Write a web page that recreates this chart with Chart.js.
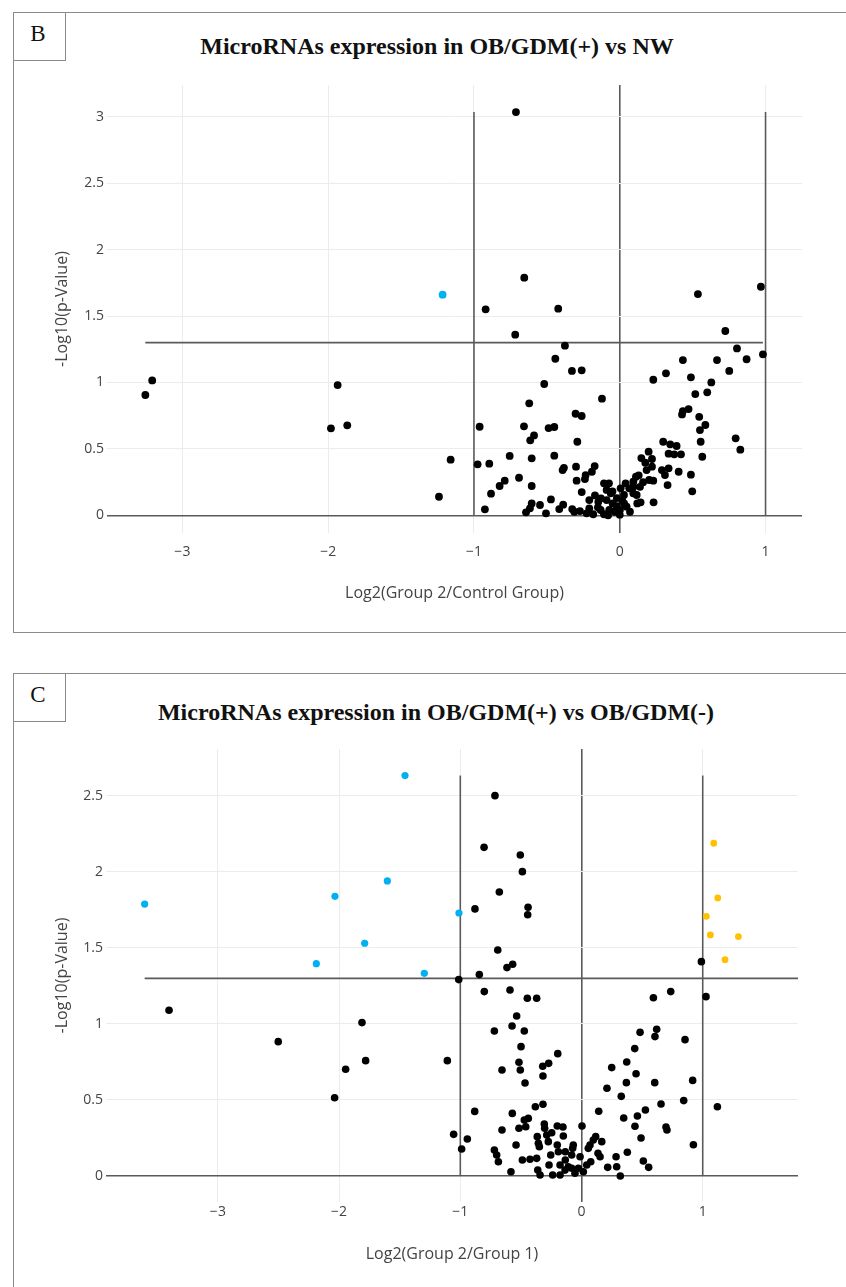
<!DOCTYPE html>
<html>
<head>
<meta charset="utf-8">
<script src="https://cdn.jsdelivr.net/npm/chart.js@4.4.1/dist/chart.umd.min.js"></script>
<style>
  html, body { margin:0; padding:0; background:#fff; width:846px; height:1287px; overflow:hidden; position:relative; }
  .panel { position:absolute; left:13px; width:900px; border:1.5px solid #8a8a8a; box-sizing:border-box; }
  .lab { position:absolute; left:13px; width:53px; height:49px; border:1.5px solid #8a8a8a; box-sizing:border-box;
         font-family:'Liberation Serif', serif; font-size:23px; color:#111; text-align:center; line-height:42px; padding-right:3px; }
  .title { position:absolute; transform:translateX(-50%); white-space:nowrap; font-family:'Liberation Serif', serif;
           font-weight:bold; font-size:24px; line-height:28px; color:#111; }
  canvas { position:absolute; left:0; }
</style>
</head>
<body>
<div class="panel" style="top:12px;height:621px;"></div>
<div class="lab" style="top:12px;">B</div>
<div class="title" style="left:437px;top:32px;">MicroRNAs expression in OB/GDM(+) vs NW</div>

<div class="panel" style="top:673px;height:700px;"></div>
<div class="lab" style="top:673px;">C</div>
<div class="title" style="left:436px;top:698px;">MicroRNAs expression in OB/GDM(+) vs OB/GDM(-)</div>

<canvas id="chartB" width="846" height="640" style="top:0px;"></canvas>
<canvas id="chartC" width="846" height="647" style="top:640px;"></canvas>

<script>
// ---------- Panel B data: OB/GDM(+) vs NW ----------
const bNsX = [-0.712,-0.655,-0.920,-0.422,-0.717,-0.376,0.536,0.968,0.724,0.804,0.870,0.982,-0.442,-0.328,-0.261,-0.518,
  0.433,0.667,0.751,0.230,0.317,0.488,0.628,0.518,0.600,-0.122,-0.621,-0.303,-0.261,0.433,0.472,0.427,0.545,0.587,0.550,
  -0.961,-0.657,-0.488,-0.449,-0.588,-0.614,-0.291,0.795,0.827,0.555,0.566,0.298,0.346,0.390,0.198,0.335,0.374,0.420,
  0.148,0.221,0.175,-1.160,-1.240,-0.975,-0.895,-0.755,-0.604,-0.449,-0.691,-0.789,-0.824,-0.883,-0.925,-0.604,-0.392,
  -0.383,-0.300,-0.234,-0.239,-0.191,-0.172,-0.296,-0.261,-0.472,-0.604,-0.547,-0.616,-0.643,-0.506,-0.415,-0.388,-0.326,
  -0.312,-0.273,-0.227,-0.209,-0.209,-0.182,-0.147,-0.131,-0.108,-0.108,-0.074,-0.090,-0.062,-0.129,-0.090,-0.049,-0.021,
  -0.072,-0.033,0.001,0.006,0.029,0.065,0.093,0.017,0.070,0.047,0.093,0.111,0.130,0.093,0.116,0.120,0.143,0.139,0.184,
  0.221,0.202,0.230,0.232,0.289,0.310,0.335,0.328,0.404,0.488,0.497,-3.207,-3.254,-1.935,-1.981,-1.869,
  -0.020,-0.050,0.030,-0.150,-0.170,0.160,0.040,-0.080,0.000];
const bNsY = [3.036,1.789,1.551,1.556,1.360,1.277,1.666,1.721,1.388,1.257,1.175,1.212,1.179,1.087,1.092,0.989,
  1.169,1.169,1.087,1.021,1.069,1.039,1.001,0.913,0.926,0.878,0.843,0.765,0.748,0.785,0.800,0.760,0.742,0.680,0.642,
  0.667,0.670,0.657,0.665,0.602,0.565,0.554,0.580,0.494,0.554,0.441,0.554,0.535,0.522,0.479,0.464,0.459,0.459,
  0.431,0.424,0.396,0.419,0.140,0.384,0.389,0.447,0.429,0.449,0.283,0.261,0.221,0.163,0.045,0.221,0.341,
  0.358,0.366,0.303,0.273,0.328,0.371,0.261,0.175,0.120,0.090,0.078,0.053,0.023,0.015,0.047,0.080,0.047,
  0.027,0.032,0.015,0.053,0.115,0.008,0.102,0.040,0.008,0.241,0.241,0.191,0.166,0.128,0.115,0.090,0.070,
  0.040,0.027,0.040,0.203,0.153,0.203,0.166,0.110,0.027,0.065,0.253,0.291,0.301,0.215,0.153,0.090,0.098,0.215,0.341,
  0.366,0.266,0.261,0.098,0.341,0.303,0.354,0.228,0.328,0.306,0.181,1.016,0.906,0.981,0.655,0.678,
  0.130,0.180,0.090,0.060,0.150,0.250,0.240,0.000,0.005];
const bDownX = [-1.215];
const bDownY = [1.661];
const bXTicks = [-3,-2,-1,0,1];
const bYTicks = [0,0.5,1,1.5,2,2.5,3];

// ---------- Panel C data: OB/GDM(+) vs OB/GDM(-) ----------
const cNsX = [-0.879,-1.013,-3.403,-1.811,-2.502,-1.781,-1.946,-2.037,-1.107,-0.881,-1.055,-0.942,-0.989,-0.714,-0.804,
  -0.505,-0.488,-0.678,-0.441,-0.444,-0.691,-0.615,-0.568,-0.843,-0.802,-0.590,-0.447,-0.370,0.989,0.593,0.736,1.027,
  -0.535,-0.719,-0.573,-0.472,-0.499,-0.196,-0.516,-0.656,-0.505,-0.320,-0.271,-0.318,-0.466,0.483,0.620,0.606,0.854,
  0.439,0.249,0.373,0.450,0.210,0.370,0.604,0.917,0.328,0.656,0.843,1.121,0.527,0.461,0.348,0.142,0.441,0.491,0.697,
  0.705,0.923,0.378,0.510,0.554,0.285,0.290,0.320,0.216,0.004,0.117,0.167,0.097,0.070,0.056,0.136,0.153,0.076,0.043,
  -0.012,0.015,-0.026,-0.054,-0.081,-0.109,-0.136,-0.177,-0.238,-0.342,-0.361,-0.268,-0.177,-0.134,-0.081,-0.073,-0.068,
  -0.134,-0.191,-0.200,-0.254,-0.274,-0.150,-0.246,-0.200,-0.153,-0.307,-0.304,-0.365,-0.356,-0.348,-0.370,-0.425,-0.488,
  -0.540,-0.582,-0.656,-0.516,-0.460,-0.472,-0.439,-0.381,-0.318,-0.571,-0.719,-0.700,-0.686,-0.287];
const cNsY = [1.757,1.292,1.090,1.009,0.884,0.759,0.702,0.515,0.759,0.425,0.274,0.243,0.178,2.502,2.162,
  2.112,2.002,1.868,1.768,1.719,1.487,1.371,1.393,1.325,1.213,1.224,1.169,1.169,1.410,1.173,1.213,1.180,
  1.053,0.954,0.987,0.954,0.851,0.805,0.748,0.697,0.697,0.722,0.741,0.658,0.612,0.945,0.965,0.917,0.897,
  0.838,0.713,0.750,0.673,0.577,0.614,0.614,0.629,0.524,0.474,0.496,0.456,0.434,0.395,0.382,0.426,0.327,0.250,0.322,
  0.303,0.206,0.156,0.099,0.057,0.127,0.061,0.000,0.057,0.329,0.259,0.226,0.237,0.204,0.182,0.149,0.127,0.094,0.072,
  0.127,0.028,0.051,0.018,0.051,0.061,0.039,0.007,0.007,0.007,0.039,0.072,0.072,0.105,0.138,0.182,0.204,
  0.160,0.160,0.204,0.138,0.226,0.263,0.285,0.329,0.322,0.342,0.314,0.259,0.215,0.193,0.116,0.110,0.105,
  0.204,0.028,0.303,0.314,0.324,0.368,0.379,0.456,0.472,0.412,0.171,0.138,0.094,0.270];
const cDownX = [-3.604,-1.456,-1.602,-2.034,-1.789,-2.188,-1.297,-1.011];
const cDownY = [1.789,2.634,1.941,1.840,1.531,1.397,1.333,1.730];
const cUpX = [1.091,1.124,1.030,1.063,1.294,1.184];
const cUpY = [2.189,1.829,1.708,1.586,1.575,1.423];
const cXTicks = [-3,-2,-1,0,1];
const cYTicks = [0,0.5,1,1.5,2,2.5];

const pValueCut = 1.3;   // -log10(0.05)
const foldCut = 1;       // |log2 FC| = 1

// ---------- helpers ----------
const zip = (xs, ys) => xs.map((x, i) => ({x, y: ys[i]}));
const fmt = v => { const r = Math.round(v * 100) / 100; return r < 0 ? '\u2212' + Math.abs(r) : String(r); };
const GRID = '#ececec', ZERO = '#5a5a5a', LINE = '#5a5a5a', TXT = '#444';

Chart.defaults.font.family = "'Open Sans', 'DejaVu Sans', sans-serif";

function volcano(id, o) {
  const allX = o.groups.flatMap(g => g.x);
  const allY = o.groups.flatMap(g => g.y);
  const minX = Math.min(...allX), maxX = Math.max(...allX), maxY = Math.max(...allY);
  const hEnd = o.hLineToEdge ? o.xRange[1] : maxX;
  const lineDs = (pts) => ({type:'line', data: pts, showLine:true, borderColor: LINE, borderWidth:1.6,
                            pointRadius:0, fill:false, order:2, clip:false});
  const datasets = [
    lineDs([{x:-foldCut, y:0}, {x:-foldCut, y:maxY}]),
    lineDs([{x: foldCut, y:0}, {x: foldCut, y:maxY}]),
    lineDs([{x:minX, y:pValueCut}, {x:hEnd, y:pValueCut}]),
  ];
  o.groups.forEach(g => datasets.push({
    type:'scatter', data: zip(g.x, g.y), backgroundColor: g.color, borderColor: g.color,
    borderWidth:0, pointRadius: g.r, pointHoverRadius: g.r, order:0
  }));
  const gridOpts = {
    drawTicks:false,
    color: c => (c.tick && Math.abs(c.tick.value) < 1e-9) ? ZERO : GRID,
    lineWidth: c => (c.tick && Math.abs(c.tick.value) < 1e-9) ? 1.6 : 1
  };
  return new Chart(document.getElementById(id), {
    type:'scatter',
    data:{datasets},
    options:{
      responsive:false, animation:false, devicePixelRatio:1,
      layout:{padding:o.pad},
      plugins:{legend:{display:false}, tooltip:{enabled:false}},
      scales:{
        x:{type:'linear', min:o.xRange[0], max:o.xRange[1],
           afterBuildTicks: s => { s.ticks = o.xTicks.map(v => ({value:v})); },
           afterFit: s => { s.height = o.xAxisH; },
           grid:gridOpts, border:{display:false},
           ticks:{padding:o.xTickPad, color:TXT, font:{size:14}, callback: v => fmt(v), maxRotation:0, autoSkip:false},
           title:{display:true, text:o.xTitle, color:TXT, font:{size:16}, padding:{top:0, bottom:o.xTitlePad}}},
        y:{type:'linear', min:o.yRange[0], max:o.yRange[1],
           afterBuildTicks: s => { s.ticks = o.yTicks.map(v => ({value:v})); },
           afterFit: s => { s.width = o.yAxisW; },
           grid:gridOpts, border:{display:false},
           ticks:{padding:3, color:TXT, font:{size:14}, callback: v => fmt(v), autoSkip:false},
           title:{display:true, text:'-Log10(p-Value)', color:TXT, font:{size:16}, padding:{top:52.4, bottom:0}}}
      }
    }
  });
}

volcano('chartB', {
  groups:[{x:bNsX, y:bNsY, color:'#000000', r:3.9}, {x:bDownX, y:bDownY, color:'#00B0F0', r:3.9}],
  xRange:[-3.517, 1.25], yRange:[-0.133, 3.24], xTicks:bXTicks, yTicks:bYTicks,
  pad:{left:0, right:44, top:85, bottom:27}, yAxisW:107, xAxisH:80, xTickPad:10.6, xTitlePad:10.4,
  xTitle:'Log2(Group 2/Control Group)', hLineToEdge:false
});

volcano('chartC', {
  groups:[{x:cNsX, y:cNsY, color:'#000000', r:3.8}, {x:cDownX, y:cDownY, color:'#00B0F0', r:3.6}, {x:cUpX, y:cUpY, color:'#FFC000', r:3.4}],
  xRange:[-3.923, 1.786], yRange:[-0.171, 2.809], xTicks:cXTicks, yTicks:cYTicks,
  pad:{left:0, right:48, top:109, bottom:15}, yAxisW:106, xAxisH:70, xTickPad:1.6, xTitlePad:8.4,
  xTitle:'Log2(Group 2/Group 1)', hLineToEdge:true
});
</script>
</body>
</html>
